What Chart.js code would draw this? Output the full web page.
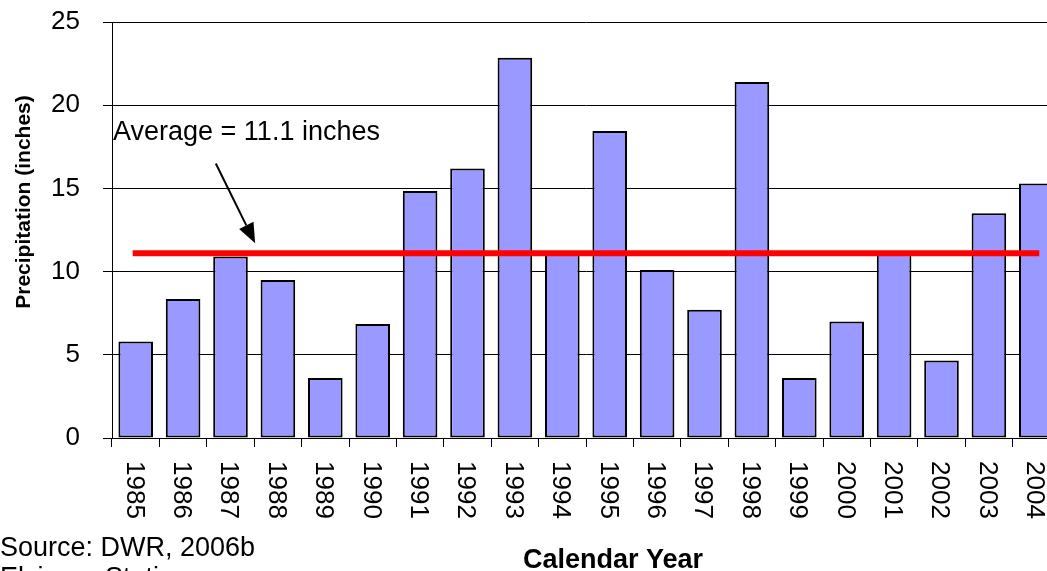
<!DOCTYPE html>
<html lang="en">
  <head>
    <meta charset="UTF-8" />
    <title>Annual Precipitation 1985-2004</title>
    <script src="https://cdn.jsdelivr.net/npm/chart.js@4"></script>
    <style>
      html, body { margin: 0; padding: 0; overflow: hidden; background: #fff; }
      canvas { display: block; }
    </style>
  </head>
  <body>
    <canvas id="myChart" width="1065" height="571"></canvas>

    <script>
      // values (DWR, 2006b)
      const years = ['1985', '1986', '1987', '1988', '1989', '1990', '1991', '1992', '1993', '1994',
                     '1995', '1996', '1997', '1998', '1999', '2000', '2001', '2002', '2003', '2004'];
      const precipitation = [5.8, 8.35, 10.9, 9.5, 3.6, 6.85, 14.85, 16.2, 22.85, 11.2,
                             18.45, 10.1, 7.7, 21.4, 3.6, 7.0, 11.2, 4.65, 13.5, 15.3];
      const averageLine = [11.1, 11.1, 11.1, 11.1, 11.1, 11.1, 11.1, 11.1, 11.1, 11.1,
                           11.1, 11.1, 11.1, 11.1, 11.1, 11.1, 11.1, 11.1, 11.1, 11.1];
      const averageLabel = 'Average = 11.1 inches';
      const yTitle = 'Precipitation (inches)';
      const xTitle = 'Calendar Year';
      const notes = ['Source: DWR, 2006b', 'Elsinore Station'];

      const FONT = '"Liberation Sans", Arial, sans-serif';

      window.addEventListener('load', setup);

      // draws the rotated year labels, titles, the arrow note and the source line
      const extraText = {
        id: 'extraText',
        afterDraw(chart) {
          const ctx = chart.ctx;
          const x = chart.scales.x;
          const y = chart.scales.y;
          ctx.save();
          ctx.fillStyle = '#000';
          ctx.strokeStyle = '#000';

          // year labels read top to bottom
          ctx.font = '26px ' + FONT;
          ctx.textAlign = 'left';
          ctx.textBaseline = 'middle';
          years.forEach((yr, i) => {
            ctx.save();
            ctx.translate(x.getPixelForValue(i) - 2, y.bottom + 23);
            ctx.rotate(Math.PI / 2);
            ctx.fillText(yr, 0, 0);
            ctx.restore();
          });

          // y title
          ctx.save();
          ctx.font = 'bold 21px ' + FONT;
          ctx.textAlign = 'center';
          ctx.textBaseline = 'middle';
          ctx.translate(24, 202);
          ctx.rotate(-Math.PI / 2);
          ctx.fillText(yTitle, 0, 0);
          ctx.restore();

          // x title
          ctx.font = 'bold 27px ' + FONT;
          ctx.textAlign = 'center';
          ctx.textBaseline = 'alphabetic';
          ctx.fillText(xTitle, 613, 568);

          // source notes
          ctx.font = '27px ' + FONT;
          ctx.textAlign = 'left';
          notes.forEach((n, i) => ctx.fillText(n, 0, 556 + i * 30));

          // average note and arrow
          ctx.fillText(averageLabel, x.left + 1, y.getPixelForValue(17.9));
          const x0 = x.getPixelForValue(1.69), y0 = y.getPixelForValue(16.5);
          const x1 = x.getPixelForValue(2.52), y1 = y.getPixelForValue(11.7);
          const ang = Math.atan2(y1 - y0, x1 - x0);
          const headLen = 20, headHalf = 8;
          const bx = x1 - headLen * Math.cos(ang), by = y1 - headLen * Math.sin(ang);
          ctx.lineWidth = 2;
          ctx.beginPath();
          ctx.moveTo(x0, y0);
          ctx.lineTo(bx, by);
          ctx.stroke();
          ctx.beginPath();
          ctx.moveTo(x1, y1);
          ctx.lineTo(bx + headHalf * Math.sin(ang), by - headHalf * Math.cos(ang));
          ctx.lineTo(bx - headHalf * Math.sin(ang), by + headHalf * Math.cos(ang));
          ctx.closePath();
          ctx.fill();

          ctx.restore();
        }
      };

      function setup() {
        Chart.defaults.font.family = FONT;
        Chart.defaults.color = '#000';
        const ctx = document.getElementById('myChart').getContext('2d');
        const myChart = new Chart(ctx, {
          type: 'bar',
          data: {
            labels: years,
            datasets: [
              {
                type: 'line',
                label: 'Average',
                data: averageLine,
                borderColor: '#FF0000',
                borderWidth: 6,
                borderCapStyle: 'square',
                pointRadius: 0,
                fill: false,
                order: 0
              },
              {
                label: 'Precipitation',
                data: precipitation,
                backgroundColor: '#9999FF',
                borderColor: '#000',
                borderWidth: 2,
                borderSkipped: false,
                barPercentage: 0.73,
                categoryPercentage: 1,
                order: 1
              }
            ]
          },
          options: {
            responsive: false,
            animation: false,
            devicePixelRatio: 1,
            layout: { padding: { top: 22, right: 5, left: 0, bottom: 0 } },
            plugins: { legend: { display: false }, tooltip: { enabled: false } },
            scales: {
              x: {
                ticks: { display: false },
                grid: { offset: true, drawOnChartArea: false, color: '#000', tickLength: 9 },
                border: { color: '#000', width: 1 },
                afterFit(scale) { scale.height = 133; }
              },
              y: {
                min: 0,
                max: 25,
                ticks: { stepSize: 5, padding: 23, color: '#000', font: { size: 26 } },
                grid: { color: '#000', lineWidth: 1, tickLength: 9 },
                border: { color: '#000', width: 1 },
                afterFit(scale) {
                  scale.width = 112;
                  // tick padding would otherwise push the plot down
                  scale.paddingTop = 0;
                  scale.paddingBottom = 0;
                }
              }
            }
          },
          plugins: [extraText]
        });
      }
    </script>
  </body>
</html>
